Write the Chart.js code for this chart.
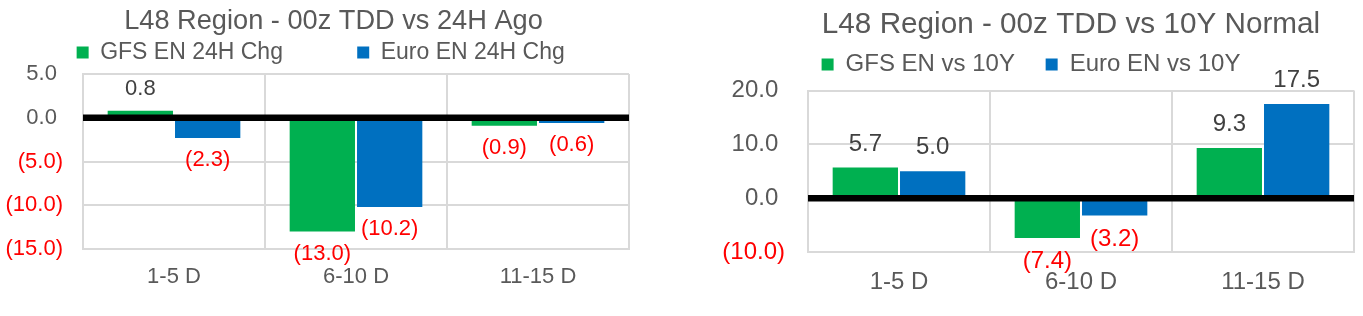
<!DOCTYPE html>
<html><head><meta charset="utf-8">
<script src="https://cdn.jsdelivr.net/npm/chart.js@4.4.1/dist/chart.umd.min.js"></script>
<style>
html,body{margin:0;padding:0;background:#fff;overflow:hidden}
#c1{position:absolute;left:0;top:0}
#c2{position:absolute;left:683px;top:0}
</style></head><body>
<canvas id="c1" width="683" height="316"></canvas>
<canvas id="c2" width="680" height="316"></canvas>
<script>
// ---- data ----
const categories = ['1-5 D', '6-10 D', '11-15 D'];

const chgTitle = 'L48 Region - 00z TDD vs 24H Ago';
const chgSeriesNames = ['GFS EN 24H Chg', 'Euro EN 24H Chg'];
const gfsChg = [0.8, -13.0, -0.9];
const euroChg = [-2.3, -10.2, -0.6];
const chgTicks = [-15, -10, -5, 0, 5];

const normTitle = 'L48 Region - 00z TDD vs 10Y Normal';
const normSeriesNames = ['GFS EN vs 10Y', 'Euro EN vs 10Y'];
const gfsNorm = [5.7, -7.4, 9.3];
const euroNorm = [5.0, -3.2, 17.5];
const normTicks = [-10, 0, 10, 20];

// ---- styling ----
const GRAY = '#595959', DARK = '#404040', RED = '#FF0000';
const GREEN = '#00B050', BLUE = '#0070C0', GRID = '#D9D9D9';
const FAMILY = "'Liberation Sans', Arial, sans-serif";
Chart.defaults.font.family = FAMILY;

function fmtTick(v) { return v < 0 ? '(' + Math.abs(v).toFixed(1) + ')' : v.toFixed(1) + ' '; }
function fmtLabel(v) { return v < 0 ? '(' + Math.abs(v).toFixed(1) + ')' : v.toFixed(1); }
const measureCtx = document.createElement('canvas').getContext('2d');
function textWidth(str, size) { measureCtx.font = size + 'px ' + FAMILY; return measureCtx.measureText(str).width; }

const zeroLine = {
  id: 'zeroLine',
  afterDatasetsDraw(chart, args, o) {
    const y = chart.scales.y.getPixelForValue(0);
    const a = chart.chartArea, ctx = chart.ctx;
    ctx.save();
    ctx.strokeStyle = '#000';
    ctx.lineWidth = o.width;
    ctx.beginPath(); ctx.moveTo(a.left, y); ctx.lineTo(a.right, y); ctx.stroke();
    ctx.restore();
  }
};
const barLabels = {
  id: 'barLabels',
  afterDatasetsDraw(chart, args, o) {
    const ctx = chart.ctx;
    ctx.save();
    ctx.font = o.size + 'px ' + FAMILY;
    ctx.textAlign = 'center';
    ctx.textBaseline = 'middle';
    chart.data.datasets.forEach((ds, i) => {
      chart.getDatasetMeta(i).data.forEach((el, j) => {
        const v = ds.data[j];
        ctx.fillStyle = v < 0 ? RED : DARK;
        ctx.fillText(fmtLabel(v), el.x, v < 0 ? el.y + o.offset : el.y - o.offset);
      });
    });
    ctx.restore();
  }
};

function makeChart(id, title, names, s1, s2, tickSet, L) {
  const widest = Math.max(...tickSet.map(v => textWidth(fmtTick(v), L.fontSize)));
  return new Chart(document.getElementById(id), {
    type: 'bar',
    data: {
      labels: categories,
      datasets: [
        { label: names[0], data: s1, backgroundColor: GREEN, borderWidth: 0, categoryPercentage: 0.74, barPercentage: 0.97 },
        { label: names[1], data: s2, backgroundColor: BLUE, borderWidth: 0, categoryPercentage: 0.74, barPercentage: 0.97 }
      ]
    },
    options: {
      responsive: false,
      animation: false,
      devicePixelRatio: 1,
      layout: { padding: { left: L.lp, right: L.rp, top: 0, bottom: 0 } },
      plugins: {
        title: {
          display: true, text: title, color: GRAY,
          font: { size: L.titleSize, weight: 'normal', lineHeight: 1 },
          padding: { top: L.titlePadTop, bottom: L.titlePadBottom }
        },
        subtitle: {
          display: true, text: '', weight: 500,
          font: { size: 1, lineHeight: 1 },
          padding: { top: L.spacer - 1, bottom: 0 }
        },
        legend: {
          display: true, position: 'top', align: 'center',
          labels: {
            color: GRAY, boxWidth: 12, boxHeight: 12, padding: L.legendPad,
            font: { size: L.legendSize },
            generateLabels(chart) {
              const items = Chart.defaults.plugins.legend.labels.generateLabels(chart);
              items.forEach((it, i) => { it.text = it.text + ' '.repeat(L.spaces[i]); it.lineWidth = 0; });
              return items;
            }
          }
        },
        tooltip: { enabled: false },
        zeroLine: { width: 6.5 },
        barLabels: { size: L.fontSize, offset: L.labelOff }
      },
      scales: {
        x: {
          grid: { color: GRID, lineWidth: 2, drawTicks: false, offset: true },
          border: { color: GRID, width: 2 },
          ticks: { color: GRAY, font: { size: L.fontSize }, padding: L.xPad },
          afterFit(s) { s.height = L.xH; }
        },
        y: {
          min: tickSet[0], max: tickSet[tickSet.length - 1],
          grid: { color: GRID, lineWidth: 2, drawTicks: false },
          border: { color: GRID, width: 2 },
          afterBuildTicks(s) { s.ticks = tickSet.map(v => ({ value: v })); },
          ticks: {
            mirror: true, crossAlign: 'far',
            font: { size: L.fontSize }, padding: -L.tickPad - widest,
            color: (c) => c.tick && c.tick.value < 0 ? RED : GRAY,
            callback: (v) => fmtTick(v)
          },
          afterFit(s) { s.width = L.yW; }
        }
      }
    },
    plugins: [zeroLine, barLabels]
  });
}

makeChart('c1', chgTitle, chgSeriesNames, gfsChg, euroChg, chgTicks, {
  lp: 38, rp: 54, yW: 45, xH: 67, tickPad: 20, xPad: 15,
  titleSize: 27.2, titlePadTop: 8, titlePadBottom: 1.8,
  legendSize: 23, legendPad: 4, spaces: [11, 4], spacer: 0,
  fontSize: 22, labelOff: 22
});
makeChart('c2', normTitle, normSeriesNames, gfsNorm, euroNorm, normTicks, {
  lp: 105, rp: 9, yW: 20, xH: 64, tickPad: 23, xPad: 15.6,
  titleSize: 29.7, titlePadTop: 9.7, titlePadBottom: 9.1,
  legendSize: 24, legendPad: 4, spaces: [4, 12], spacer: 4,
  fontSize: 24, labelOff: 23.5
});
</script>
</body></html>
